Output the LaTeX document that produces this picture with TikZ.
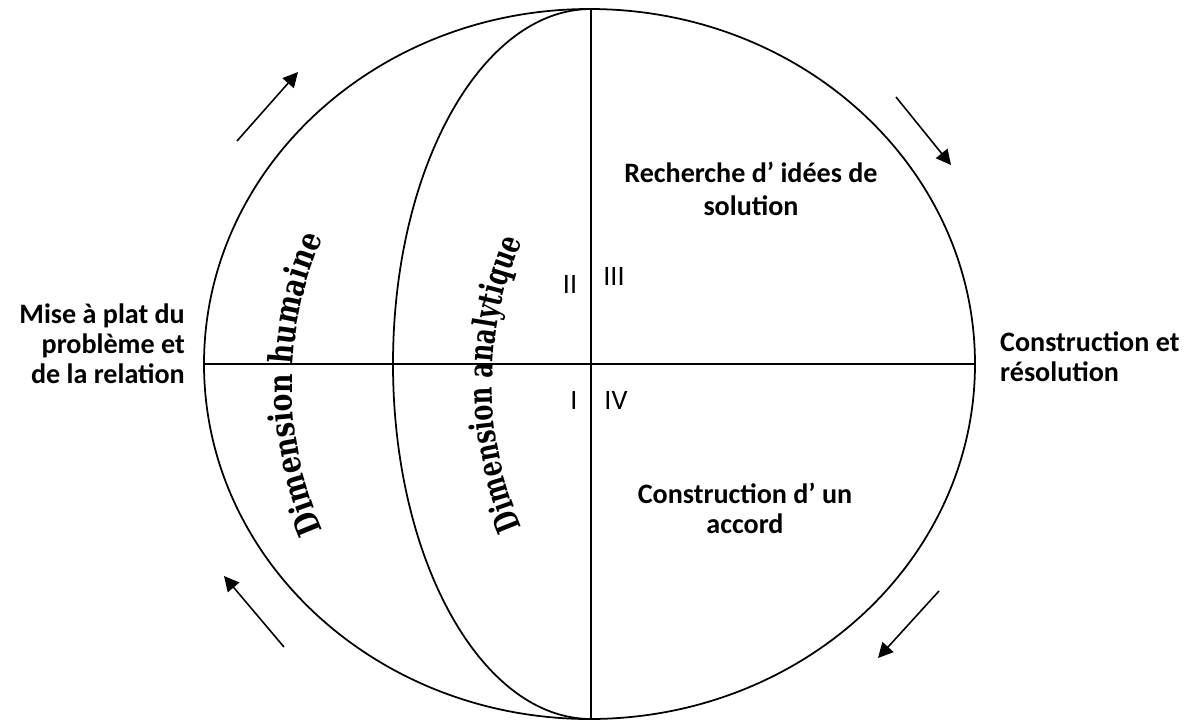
\documentclass[tikz,border=0pt]{standalone}
\usepackage{fontspec}
\setmainfont{Carlito}
\newfontfamily\dimfont{DejaVu Serif}[FakeStretch=0.8]
\newfontfamily\dimnarrow{DejaVu Serif}[FakeStretch=0.72]
\usetikzlibrary{arrows.meta, decorations.text}
\newcommand{\dimbig}{\dimfont\bfseries\fontsize{19}{22}\selectfont}
\newcommand{\dimslim}{\dimnarrow\bfseries\fontsize{19}{22}\selectfont}

\begin{document}
\begin{tikzpicture}[x=0.02cm, y=-0.02cm, >={Triangle[length=8.5pt, width=8.5pt]},
  rim/.style={line width=1pt},
  flow/.style={->, line width=0.9pt},
  lbl/.style={font=\fontsize{16}{17}\selectfont\bfseries, align=center},
  num/.style={font=\fontsize{16}{17}\selectfont}]

  \useasboundingbox (0,0) rectangle (1191,721);

  % --- sphere and its cuts ---
  \draw[rim] (589.5,364) ellipse [x radius=385.5, y radius=355];
  \coordinate (top) at (591,9);
  \coordinate (bottom) at (591,719);
  \coordinate (west) at (204,364);
  \coordinate (east) at (975,364);
  \draw[rim] (top) arc[start angle=270, end angle=90, x radius=198, y radius=355];
  \draw[rim] (top) -- (bottom);
  \draw[rim] (west) -- (east);

  % --- the two dimensions, bent along the sphere ---
  \path[decorate, decoration={text along path, text align=center,
      text={|\dimbig|Dimension humaine}}]
    (323,529.6) arc[start angle=156, end angle=204, radius=358];
  \path[decorate, decoration={text along path, text align=center,
      text={|\dimslim|Dimension analytique}}]
    (523,529.6) arc[start angle=156, end angle=204, radius=358];

  % --- quadrant numbers ---
  \node[num] (q2) at (570,284) {II};
  \node[num] (q3) at (614,276) {III};
  \node[num] (q1) at (574,400) {I};
  \node[num] (q4) at (616,400) {IV};

  % --- phases ---
  \node[lbl, anchor=east, align=right] (flat) at (191,344)
    {Mise à plat du\\problème et\\de la relation};
  \node[lbl, font=\fontsize{16}{19}\selectfont\bfseries] (ideas) at (751,189)
    {Recherche d’ idées de\\solution};
  \node[lbl, anchor=west, align=left] (solve) at (994,357)
    {Construction et\\résolution};
  \node[lbl] (deal) at (745,508) {Construction d’ un\\accord};

  % --- rotation arrows ---
  \coordinate (tl tail) at (237,141);
  \coordinate (tl tip) at (298,72);
  \coordinate (tr tail) at (896,97);
  \coordinate (tr tip) at (951,165);
  \coordinate (br tail) at (939,591);
  \coordinate (br tip) at (878,658);
  \coordinate (bl tail) at (284,647);
  \coordinate (bl tip) at (224,576);
  \draw[flow] (tl tail) -- (tl tip);
  \draw[flow] (tr tail) -- (tr tip);
  \draw[flow] (br tail) -- (br tip);
  \draw[flow] (bl tail) -- (bl tip);

\end{tikzpicture}
\end{document}
